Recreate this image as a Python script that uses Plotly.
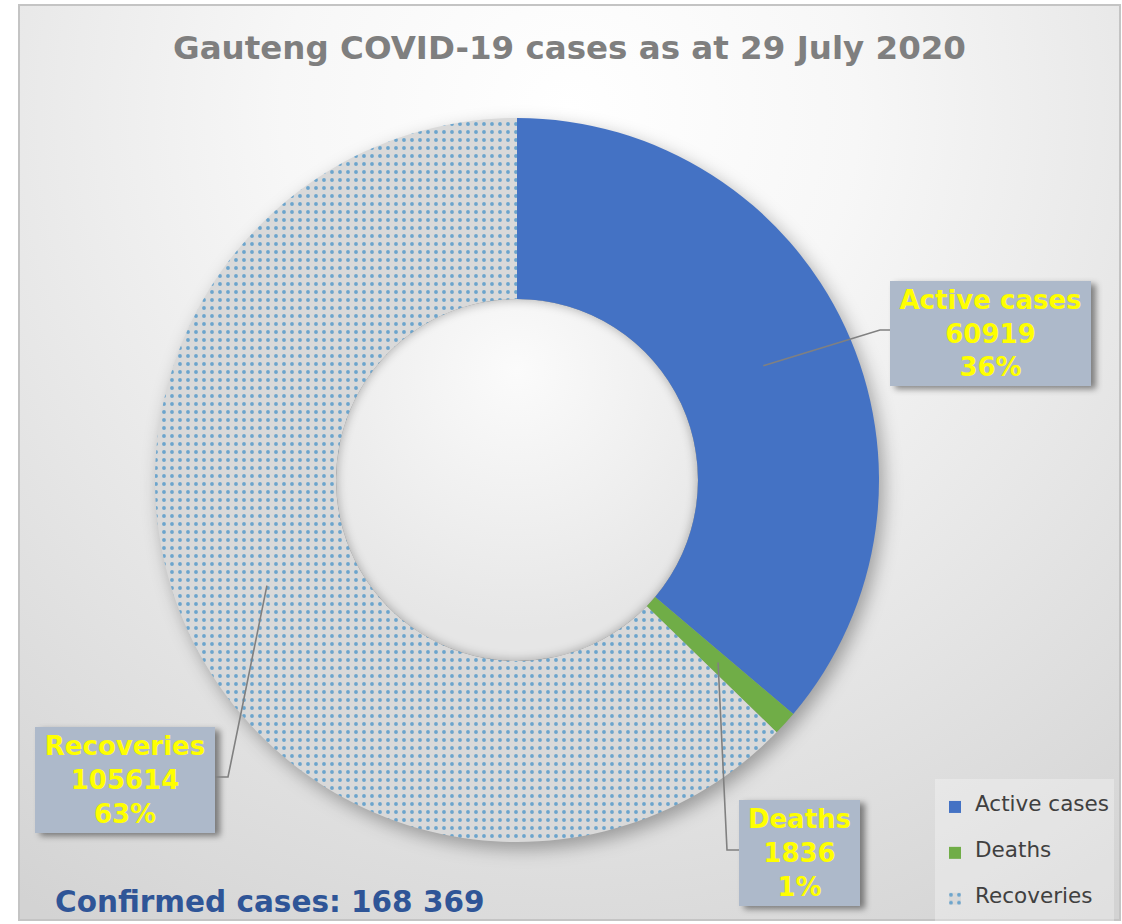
import math
import base64
import plotly.graph_objects as go

# ---------------- data ----------------
labels = ["Active cases", "Deaths", "Recoveries"]
values = [60919, 1836, 105614]
slice_colors = ["#4472C4", "#70AD47", "#D9D9D9"]
pattern_shapes = ["", "", "."]
title_text = "Gauteng COVID-19 cases as at 29 July 2020"
confirmed_text = "Confirmed cases: 168 369"

# ---------------- geometry (pixels) ----------------
W, H = 1122, 924
CX, CY, R_OUT = 517, 480, 362
HOLE = 0.5
R_IN = R_OUT * HOLE


def px(x):
    return x / W


def py(y):
    return 1 - y / H


total = sum(values)
pcts = [round(v / total * 100) for v in values]

# label boxes: (center x, center y, width, height) and leader elbow/end points
boxes = {
    "Active cases": dict(cx=990.5, cy=331.5, w=201, h=105, elbow=(880, 330), end=(890, 330)),
    "Deaths": dict(cx=799.5, cy=851, w=121, h=106, elbow=(727, 850), end=(739, 850)),
    "Recoveries": dict(cx=125, cy=778, w=180, h=106, elbow=(228, 777), end=(215, 777)),
}

# ---------------- background svg (gradient frame, shadows) ----------------
shadow_rects = ""
for b in boxes.values():
    shadow_rects += (
        f'<rect x="{b["cx"] - b["w"] / 2 + 5}" y="{b["cy"] - b["h"] / 2 + 5}" '
        f'width="{b["w"]}" height="{b["h"]}" fill="#000" fill-opacity="0.45" filter="url(#b3)"/>'
    )

svg = f'''<svg xmlns="http://www.w3.org/2000/svg" width="{W}" height="{H}" viewBox="0 0 {W} {H}" preserveAspectRatio="none">
<defs>
<radialGradient id="bg" gradientUnits="userSpaceOnUse" cx="570" cy="110" r="960">
<stop offset="0" stop-color="#ffffff"/>
<stop offset="0.3" stop-color="#f7f7f7"/>
<stop offset="1" stop-color="#d3d3d3"/>
</radialGradient>
<radialGradient id="hole" gradientUnits="userSpaceOnUse" cx="{CX}" cy="{CY - 110}" r="{R_IN * 1.45}">
<stop offset="0" stop-color="#fbfbfb"/>
<stop offset="1" stop-color="#e6e6e6"/>
</radialGradient>
<filter id="b8" x="-30%" y="-30%" width="160%" height="160%"><feGaussianBlur stdDeviation="9"/></filter>
<filter id="b3" x="-30%" y="-30%" width="160%" height="160%"><feGaussianBlur stdDeviation="3"/></filter>
<filter id="b4" x="-30%" y="-30%" width="160%" height="160%"><feGaussianBlur stdDeviation="4"/></filter>
<clipPath id="hc"><circle cx="{CX}" cy="{CY}" r="{R_IN}"/></clipPath>
</defs>
<rect x="0" y="0" width="{W}" height="{H}" fill="#ffffff"/>
<rect x="19" y="5" width="1101" height="915" fill="url(#bg)" stroke="#c4c4c4" stroke-width="2"/>
<circle cx="{CX + 5}" cy="{CY + 7}" r="{R_OUT}" fill="#000" fill-opacity="0.32" filter="url(#b8)"/>
<g clip-path="url(#hc)">
<circle cx="{CX}" cy="{CY}" r="{R_IN}" fill="url(#hole)"/>
<circle cx="{CX}" cy="{CY}" r="{R_IN + 5}" fill="none" stroke="#000" stroke-opacity="0.22" stroke-width="14" filter="url(#b4)"/>
</g>
{shadow_rects}
</svg>'''
svg_uri = "data:image/svg+xml;base64," + base64.b64encode(svg.encode("utf-8")).decode("ascii")

# ---------------- figure ----------------
legend_labels = [f"<br><span style='font-size:21.5px'>{l}</span><br>" for l in labels]

fig = go.Figure()
fig.add_trace(
    go.Pie(
        labels=legend_labels,
        values=values,
        hole=HOLE,
        sort=False,
        direction="clockwise",
        rotation=0,
        textinfo="none",
        hoverinfo="skip",
        marker=dict(
            colors=slice_colors,
            line=dict(width=0),
            pattern=dict(
                shape=pattern_shapes,
                fgcolor="#0070C0",
                fillmode="overlay",
                size=8,
                solidity=0.18,
            ),
        ),
        domain=dict(x=[px(CX - R_OUT), px(CX + R_OUT)], y=[py(CY + R_OUT), py(CY - R_OUT)]),
        showlegend=True,
    )
)

shapes = []
annotations = []
cum = 0
for lab, v, p in zip(labels, values, pcts):
    mid = (cum + v / 2) / total
    cum += v
    ang = 2 * math.pi * mid
    rm = (R_IN + R_OUT) / 2
    ax = CX + rm * math.sin(ang)
    ay = CY - rm * math.cos(ang)
    b = boxes[lab]
    ex, ey = b["elbow"]
    tx, ty = b["end"]
    shapes.append(
        dict(
            type="path",
            xref="paper",
            yref="paper",
            path=f"M {px(ax)} {py(ay)} L {px(ex)} {py(ey)} L {px(tx)} {py(ty)}",
            line=dict(color="#808080", width=1.6),
            layer="above",
        )
    )
    annotations.append(
        dict(
            xref="paper",
            yref="paper",
            x=px(b["cx"]),
            y=py(b["cy"] + 2),
            xanchor="center",
            yanchor="middle",
            width=b["w"],
            height=b["h"],
            bgcolor="#ADB9CA",
            borderpad=0,
            borderwidth=0,
            showarrow=False,
            align="center",
            valign="middle",
            text=f"{lab}<br>{v}<br>{p}%",
            font=dict(family="DejaVu Sans", size=26, color="#FFFF00", weight="bold"),
        )
    )

annotations.append(
    dict(
        xref="paper", yref="paper", x=px(569.5), y=py(48.5), xanchor="center", yanchor="middle",
        showarrow=False, text=title_text,
        font=dict(family="DejaVu Sans", size=32.5, color="#7F7F7F", weight="bold"),
    )
)
annotations.append(
    dict(
        xref="paper", yref="paper", x=px(53), y=py(902), xanchor="left", yanchor="middle",
        showarrow=False, text=confirmed_text,
        font=dict(family="DejaVu Sans", size=29.5, color="#2F5597", weight="bold"),
    )
)

fig.update_layout(
    width=W,
    height=H,
    autosize=False,
    margin=dict(l=0, r=0, t=0, b=0, autoexpand=False),
    paper_bgcolor="#FFFFFF",
    plot_bgcolor="rgba(0,0,0,0)",
    images=[
        dict(
            source=svg_uri, xref="paper", yref="paper", x=0, y=1, sizex=1, sizey=1,
            xanchor="left", yanchor="top", sizing="stretch", layer="below",
        )
    ],
    shapes=shapes,
    annotations=annotations,
    legend=dict(
        x=px(935), y=py(779), xanchor="left", yanchor="top",
        bgcolor="rgba(255,255,255,0.3)",
        font=dict(family="DejaVu Sans", size=11.0, color="#404040"),
        valign="middle",
        itemclick=False, itemdoubleclick=False,
    ),
)

fig.write_html(
    "out.html",
    config={"displayModeBar": False, "responsive": False},
    post_script=(
        "document.documentElement.style.margin='0';"
        "document.documentElement.style.overflow='hidden';"
        "document.body.style.margin='0';"
        "document.body.style.overflow='hidden';"
        "var g=document.getElementById('{plot_id}');"
        "g.style.position='fixed';g.style.left='0px';g.style.top='0px';"
    ),
)
